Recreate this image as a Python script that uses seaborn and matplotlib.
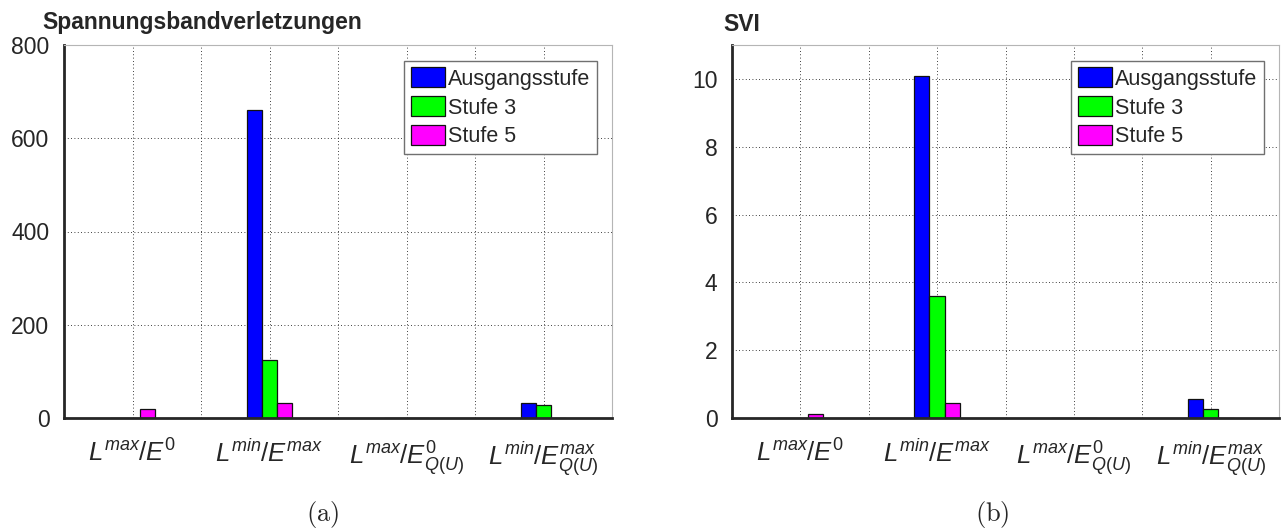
import numpy as np
import pandas as pd
import matplotlib
matplotlib.use("Agg")
import matplotlib.pyplot as plt
from matplotlib.patches import Patch
import seaborn as sns

# ---- data -------------------------------------------------------------
categories = ["Lmax/E0", "Lmin/Emax", "Lmax/E0_QU", "Lmin/Emax_QU"]
tick_labels = [r"$L^{max}/E^{0}$", r"$L^{min}/E^{max}$",
               r"$L^{max}/E^{0}_{Q(U)}$", r"$L^{min}/E^{max}_{Q(U)}$"]
series = ["Ausgangsstufe", "Stufe 3", "Stufe 5"]

# Spannungsbandverletzungen (counts)
violations_base = [0, 660, 0, 33]
violations_s3 = [0, 124, 0, 27]
violations_s5 = [20, 32, 0, 0]

# SVI
svi_base = [0, 10.08, 0, 0.56]
svi_s3 = [0, 3.59, 0, 0.27]
svi_s5 = [0.11, 0.43, 0, 0]

colors = {"Ausgangsstufe": "#0000ff", "Stufe 3": "#00ff00", "Stufe 5": "#ff00ff"}


def long_frame(values_by_series):
    rows = []
    for name, vals in zip(series, values_by_series):
        for cat, v in zip(categories, vals):
            rows.append({"category": cat, "series": name, "value": v})
    return pd.DataFrame(rows)


sns.set_theme(style="white")
plt.rcParams["font.family"] = ["Liberation Sans", "DejaVu Sans"]
plt.rcParams["mathtext.fontset"] = "custom"
plt.rcParams["mathtext.it"] = "Liberation Sans:italic"
plt.rcParams["mathtext.rm"] = "Liberation Sans"
plt.rcParams["mathtext.default"] = "it"

W, H = 1283, 530
fig = plt.figure(figsize=(W / 100, H / 100), dpi=100)

ax_left = fig.add_axes([64 / W, 1 - 418 / H, (612 - 64) / W, (418 - 45) / H])
ax_right = fig.add_axes([732 / W, 1 - 418 / H, (1279 - 732) / W, (418 - 45) / H])

panels = [
    (ax_left, [violations_base, violations_s3, violations_s5], (0, 800), np.arange(0, 801, 200)),
    (ax_right, [svi_base, svi_s3, svi_s5], (0, 11), np.arange(0, 11, 2)),
]

dark = "#262626"
for ax, vals, ylim, yticks in panels:
    df = long_frame(vals)
    sns.barplot(data=df, x="category", y="value", hue="series",
                order=categories, hue_order=series, palette=colors,
                saturation=1, width=0.335, errorbar=None, edgecolor="#111111",
                linewidth=0.9, legend=False, ax=ax, zorder=2)
    ax.set_xlim(-0.5, 3.5)
    ax.set_ylim(*ylim)
    ax.set_yticks(yticks)
    ax.set_yticklabels([f"{t:g}" for t in yticks], fontsize=16.5)
    xt = np.arange(0, 3.01, 0.5)
    ax.set_xticks(xt)
    labels = []
    for t in xt:
        labels.append(tick_labels[int(t)] if float(t).is_integer() else "")
    ax.set_xticklabels(labels, fontsize=18.5)
    ax.set_xlabel("")
    ax.set_ylabel("")
    ax.set_axisbelow(True)
    ax.grid(True, color="black", linestyle=(0, (1, 3)), linewidth=0.6)
    for side in ("left", "bottom"):
        ax.spines[side].set_color(dark)
        ax.spines[side].set_linewidth(2.0)
    for side in ("top", "right"):
        ax.spines[side].set_color("#b5b5b5")
        ax.spines[side].set_linewidth(0.8)
    ax.tick_params(axis="both", direction="out", length=4.5, width=1.5,
                   color=dark, labelcolor="#262626")
    ax.tick_params(axis="x", pad=11)
    ax.tick_params(axis="y", pad=6)
    handles = [Patch(facecolor=colors[s], edgecolor="#111111", linewidth=0.9, label=s)
               for s in series]
    leg = ax.legend(handles=handles, loc="upper right", bbox_to_anchor=(0.9725, 0.957),
                    fontsize=15.5, frameon=True, fancybox=False, framealpha=1,
                    edgecolor="#707070", handlelength=1.6, handleheight=1.05,
                    handletextpad=0.15, labelspacing=0.3, borderpad=0.3,
                    borderaxespad=0.0)
    leg.get_frame().set_linewidth(1.0)

fig.text(42 / W, 1 - 29 / H, "Spannungsbandverletzungen", fontsize=16.5,
         weight="bold", color="#262626", ha="left", va="baseline")
fig.text(723 / W, 1 - 31 / H, "SVI", fontsize=16.5,
         weight="bold", color="#262626", ha="left", va="baseline")

fig.text(323 / W, 1 - 515 / H, r"$\mathrm{(a)}$", fontsize=19, ha="center",
         va="center", math_fontfamily="cm")
fig.text(992 / W, 1 - 515 / H, r"$\mathrm{(b)}$", fontsize=19, ha="center",
         va="center", math_fontfamily="cm")

fig.savefig("out.png", dpi=100)
